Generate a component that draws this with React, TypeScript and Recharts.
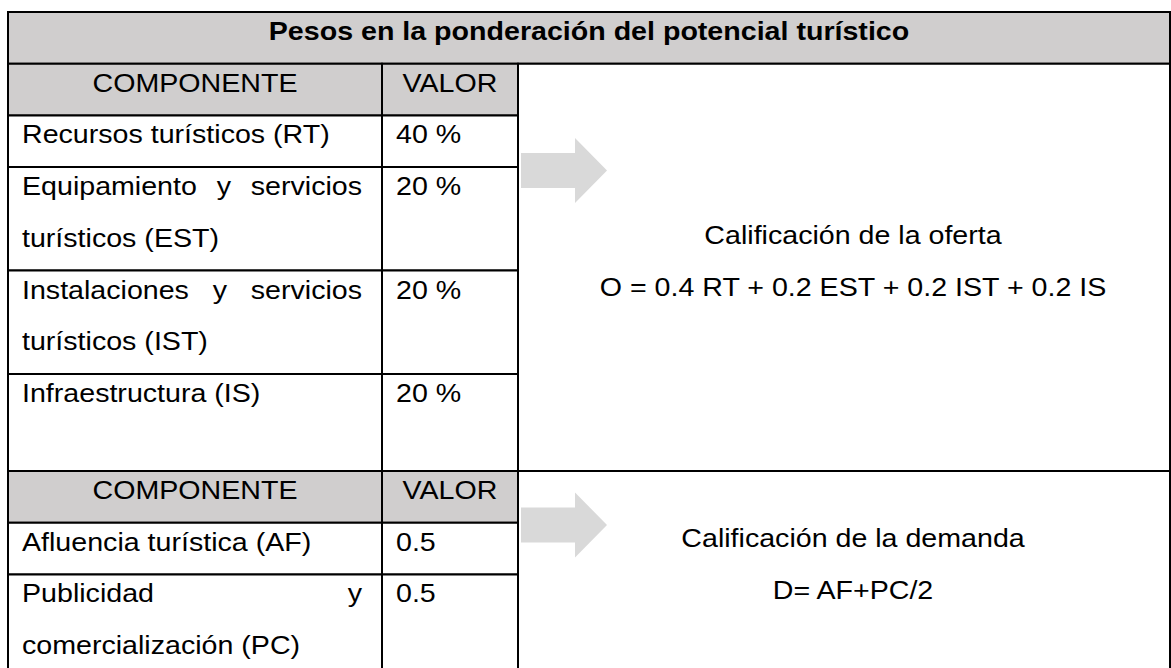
import React from 'react';
import { ComposedChart, XAxis, YAxis, ReferenceArea } from 'recharts';

// table content
const TITLE = 'Pesos en la ponderación del potencial turístico';
const HEADERS = ['COMPONENTE', 'VALOR'];
const OFERTA_COMPONENTS = [
  ['Recursos turísticos (RT)'],
  ['Equipamiento y servicios', 'turísticos (EST)'],
  ['Instalaciones y servicios', 'turísticos (IST)'],
  ['Infraestructura (IS)'],
];
const OFERTA_VALUES = ['40 %', '20 %', '20 %', '20 %'];
const OFERTA_RESULT = ['Calificación de la oferta', 'O = 0.4 RT + 0.2 EST + 0.2 IST + 0.2 IS'];
const DEMANDA_COMPONENTS = [['Afluencia turística (AF)'], ['Publicidad y', 'comercialización (PC)']];
const DEMANDA_VALUES = ['0.5', '0.5'];
const DEMANDA_RESULT = ['Calificación de la demanda', 'D= AF+PC/2'];

// layout
const W = 1171;
const H = 668;
const TOP = 12;
const LEFT = 8;
const RIGHT = 1;
const UNIT = 51.7; // one text line of the table, px
const COL1 = 374;
const COL2 = 136;
const TABLE_W = W - LEFT - RIGHT;
const OFERTA_SPANS = [1, 2, 2, 1.88];
const DEMANDA_SPANS = [1, 2];

const FONT = '"Liberation Sans", Arial, sans-serif';
const FS = 26;
const SX = 1.1;
const LINE = 51.5;
const BASE = 28;
const PAD = 14;
const GRAY = '#d0cece';
const ARROW = '#d9d9d9';

let ctx: CanvasRenderingContext2D | null = null;
const measure = (s: string, bold = false) => {
  if (!ctx) ctx = document.createElement('canvas').getContext('2d');
  if (!ctx) return s.length * FS * 0.5 * SX;
  ctx.font = `${bold ? 'bold ' : ''}${FS}px "Liberation Sans"`;
  return ctx.measureText(s).width * SX;
};

type Cell = {
  x1: number; x2: number; y1: number; y2: number;
  fill: string; lines: string[]; align: 'left' | 'center' | 'justify';
  bold?: boolean; top?: number; shift?: number;
};

const T = (x: number, y: number, s: string, anchor: string, bold?: boolean, key?: any) => (
  <text
    key={key}
    transform={`translate(${x},${y}) scale(${SX},1)`}
    textAnchor={anchor}
    fontFamily={FONT}
    fontSize={FS}
    fontWeight={bold ? 'bold' : 'normal'}
    fill="#000"
  >
    {s}
  </text>
);

const renderCell = (cell: Cell) => (props: any) => {
  const vb = props.viewBox || {};
  const { x, y, width } = vb;
  const out: any[] = [];
  cell.lines.forEach((line, i) => {
    const by = cell.top != null ? cell.top + i * LINE : y + BASE + i * LINE;
    if (cell.align === 'center') {
      out.push(T(x + width / 2 + (cell.shift || 0), by, line, 'middle', cell.bold, i));
    } else if (cell.align === 'justify' && i < cell.lines.length - 1) {
      const words = line.split(/\s+/);
      const ws = words.map((w) => measure(w));
      const avail = width - PAD - 20;
      const gap = (avail - ws.reduce((a, b) => a + b, 0)) / (words.length - 1);
      let cx = x + PAD;
      words.forEach((w, j) => {
        out.push(T(cx, by, w, 'start', false, `${i}-${j}`));
        cx += ws[j] + gap;
      });
    } else {
      out.push(T(x + PAD, by, line, 'start', false, i));
    }
  });
  return <g>{out}</g>;
};

const cells: Cell[] = [];
cells.push({ x1: 0, x2: TABLE_W, y1: 0, y2: 1, fill: GRAY, lines: [TITLE], align: 'center', bold: true });

const addBlock = (
  y0: number, comps: string[][], vals: string[], spans: number[], result: string[], resultTop: number,
) => {
  cells.push({ x1: 0, x2: COL1, y1: y0, y2: y0 + 1, fill: GRAY, lines: [HEADERS[0]], align: 'center' });
  cells.push({ x1: COL1, x2: COL1 + COL2, y1: y0, y2: y0 + 1, fill: GRAY, lines: [HEADERS[1]], align: 'center' });
  let y = y0 + 1;
  comps.forEach((c, i) => {
    cells.push({ x1: 0, x2: COL1, y1: y, y2: y + spans[i], fill: '#fff', lines: c, align: 'justify' });
    cells.push({ x1: COL1, x2: COL1 + COL2, y1: y, y2: y + spans[i], fill: '#fff', lines: [vals[i]], align: 'left' });
    y += spans[i];
  });
  cells.push({
    x1: COL1 + COL2, x2: TABLE_W, y1: y0, y2: y, fill: '#fff',
    lines: result, align: 'center', top: resultTop, shift: 9,
  });
  return y;
};

const yDemanda = addBlock(1, OFERTA_COMPONENTS, OFERTA_VALUES, OFERTA_SPANS, OFERTA_RESULT, 244);
addBlock(yDemanda, DEMANDA_COMPONENTS, DEMANDA_VALUES, DEMANDA_SPANS, DEMANDA_RESULT, 547);

// arrows sit on the first row boundary of each block
const ARROWS = [3 + 0.066, yDemanda + 1 + 0.043];
const ARROW_HALF = 0.63;

const arrowShape = (p: any) => {
  const { x, y, width, height } = p;
  const cy = y + height / 2;
  const sh = height * (17.5 / 65);
  const hx = x + width * (54 / 86);
  const pts = [
    [x, cy - sh], [hx, cy - sh], [hx, y], [x + width, cy],
    [hx, y + height], [hx, cy + sh], [x, cy + sh],
  ].map((q) => q.join(',')).join(' ');
  return <polygon points={pts} fill={ARROW} />;
};

export default function App() {
  return (
    <div style={{ position: 'absolute', left: 0, top: 0, width: W, height: H, background: '#fff' }}>
      <ComposedChart width={W} height={H} data={[]} margin={{ top: TOP, right: RIGHT, left: LEFT, bottom: 0 }}>
        <XAxis type="number" dataKey="x" domain={[0, TABLE_W]} hide allowDataOverflow />
        <YAxis type="number" dataKey="y" domain={[0, (H - TOP) / UNIT]} reversed hide allowDataOverflow />
        {cells.map((c, i) => (
          <ReferenceArea
            key={i}
            x1={c.x1}
            x2={c.x2}
            y1={c.y1}
            y2={c.y2}
            fill={c.fill}
            fillOpacity={1}
            stroke="#000"
            strokeWidth={2}
            ifOverflow="visible"
            label={renderCell(c)}
          />
        ))}
        {ARROWS.map((a, i) => (
          <ReferenceArea
            key={`a${i}`}
            x1={COL1 + COL2 + 3}
            x2={COL1 + COL2 + 89}
            y1={a - ARROW_HALF}
            y2={a + ARROW_HALF}
            ifOverflow="visible"
            shape={arrowShape}
          />
        ))}
      </ComposedChart>
    </div>
  );
}
